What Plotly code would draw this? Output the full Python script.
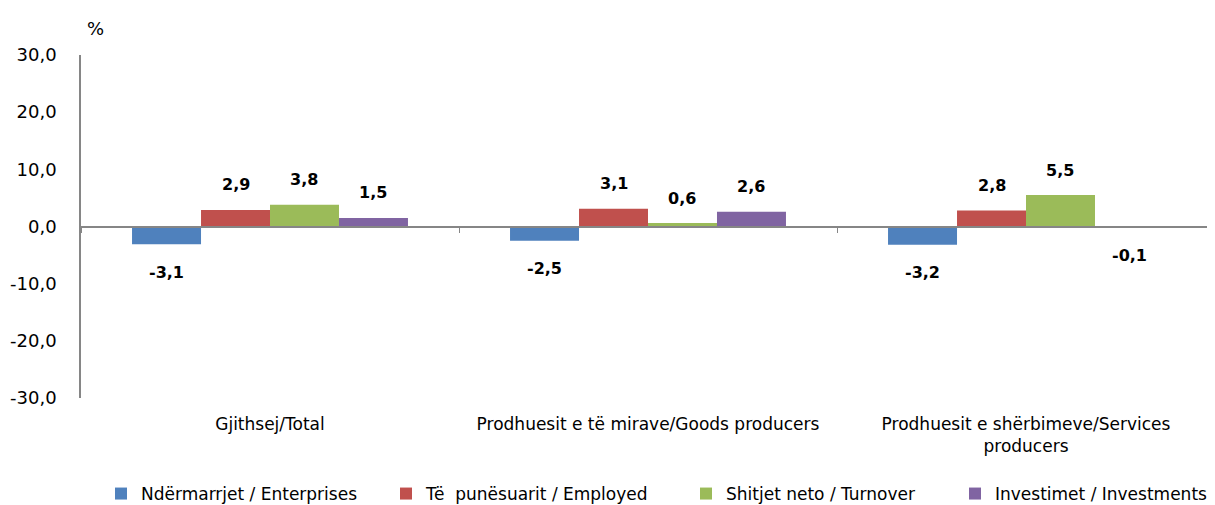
import plotly.graph_objects as go

categories = ["Gjithsej/Total", "Prodhuesit e të mirave/Goods producers",
              "Prodhuesit e shërbimeve/Services<br>producers"]
series_names = ["Ndërmarrjet / Enterprises", "Të  punësuarit / Employed",
                "Shitjet neto / Turnover", "Investimet / Investments"]
enterprises = [-3.1, -2.5, -3.2]
employed = [2.9, 3.1, 2.8]
turnover = [3.8, 0.6, 5.5]
investments = [1.5, 2.6, -0.1]
y_ticks = [-30, -20, -10, 0, 10, 20, 30]

colors = ["#4F81BD", "#C0504D", "#9BBB59", "#8064A2"]
all_series = [enterprises, employed, turnover, investments]
FONT = "DejaVu Sans"

OFF = 8  # page body margin
W, H = 1215 - OFF, 505 - OFF
ML, MR, MT, MB = 81 - OFF, 0, 55 - OFF, 107
PW = W - ML - MR
PH = H - MT - MB
legend_left_px = [101, 386, 686, 955]  # page x of each legend entry


def fmt(v):
    return f"{v:.1f}".replace(".", ",")


fig = go.Figure()
legend_ids = ["legend", "legend2", "legend3", "legend4"]
for name, vals, col, lid in zip(series_names, all_series, colors, legend_ids):
    fig.add_trace(go.Bar(x=categories, y=vals, name=name, marker_color=col,
                         marker_line_width=0, legend=lid))

# invisible trace carrying the axis drawn at zero (with boundary ticks)
fig.add_trace(go.Scatter(x=categories, y=[0, 0, 0], mode="markers", marker_opacity=0,
                         showlegend=False, hoverinfo="skip", xaxis="x2"))

bargap = 0.27
bw = (1 - bargap) / 4
annotations = []
for si, vals in enumerate(all_series):
    off = -(1 - bargap) / 2 + bw * (si + 0.5)
    for ci, v in enumerate(vals):
        annotations.append(dict(x=ci + off, y=v, xref="x", yref="y",
                                text=f"<b>{fmt(v)}</b>", showarrow=False,
                                yshift=25 if v >= 0 else -28,
                                font=dict(size=16, color="#000", family=FONT)))
annotations.append(dict(x=(95 - 81) / PW, y=1 + (55 - 28) / PH,
                        xref="paper", yref="paper", text="%", showarrow=False,
                        xanchor="center", yanchor="middle",
                        font=dict(size=18, color="#000", family=FONT)))

legends = {}
for lid, px in zip(legend_ids, legend_left_px):
    legends[lid] = dict(orientation="h", x=(px - 81) / PW, xanchor="left",
                        y=-(494 - 398) / PH, yanchor="middle",
                        font=dict(size=17, family=FONT), bgcolor="rgba(0,0,0,0)")

fig.update_layout(
    width=W, height=H,
    margin=dict(l=ML, r=MR, t=MT, b=MB, autoexpand=False),
    paper_bgcolor="white", plot_bgcolor="white",
    barmode="group", bargap=bargap, bargroupgap=0,
    font=dict(family=FONT, size=15, color="#000"),
    showlegend=True,
    xaxis=dict(showline=False, ticks="", showgrid=False, tickfont=dict(size=17),
               range=[-0.5, 2.5], automargin=False, ticklabelstandoff=14),
    xaxis2=dict(matches="x", overlaying="x", anchor="free", position=0.5,
                showticklabels=False, ticks="outside", tickson="boundaries",
                ticklen=6, tickcolor="#868686", showline=True, linecolor="#868686",
                linewidth=1.5, showgrid=False, range=[-0.5, 2.5], automargin=False),
    yaxis=dict(range=[-30, 30], tickvals=y_ticks, ticktext=[fmt(t) for t in y_ticks],
               showline=True, linecolor="#868686", linewidth=1.5, ticks="",
               showgrid=False, zeroline=False, tickfont=dict(size=18),
               ticklabelstandoff=19, automargin=False),
    annotations=annotations,
    **legends,
)
fig.write_html("out.html")
